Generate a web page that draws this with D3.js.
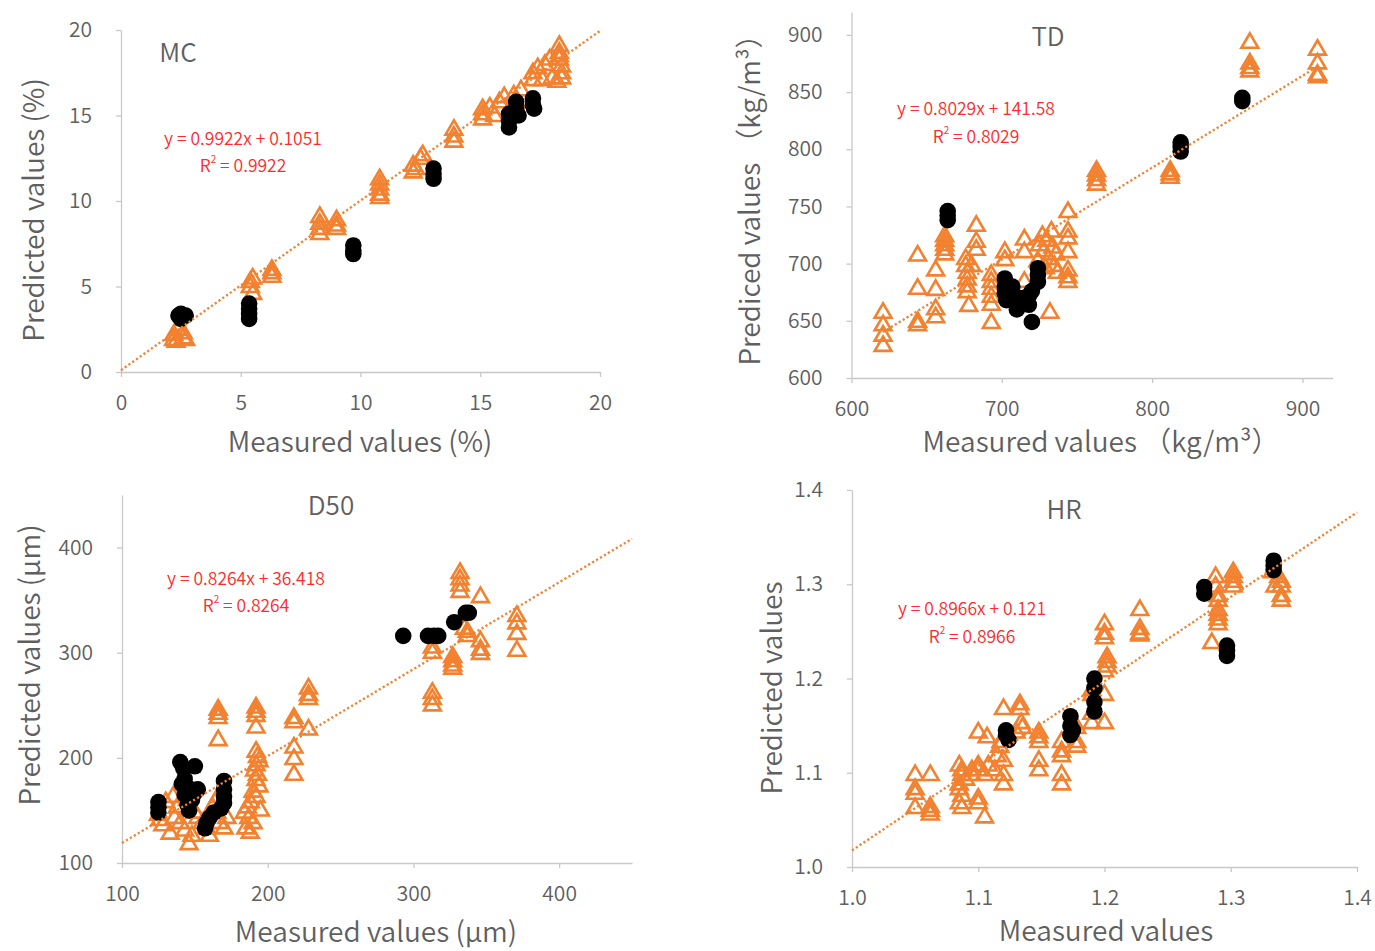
<!DOCTYPE html>
<html>
<head>
<meta charset="utf-8">
<script src="https://cdn.jsdelivr.net/npm/d3@7"></script>
<style>
  body { margin: 0; background: #fff; }
  svg { display: block; }
</style>
</head>
<body>
<svg id="chart" width="1375" height="951"></svg>
<script>
// ---- MC: moisture content (%) ----
const mcCal = [
  [2.2,2.0],[2.2,2.3],[2.3,1.9],[2.4,2.6],[2.6,2.1],[2.6,2.4],[2.7,2.0],
  [5.4,5.4],[5.4,5.1],[5.5,4.7],[5.5,5.6],
  [6.3,5.7],[6.3,5.9],[6.3,6.1],
  [8.3,9.2],[8.3,8.8],[8.3,8.5],[8.3,8.2],
  [9.0,9.0],[9.0,8.7],[9.0,8.5],
  [10.8,11.4],[10.8,11.1],[10.8,10.8],[10.8,10.5],[10.8,10.3],
  [12.2,12.2],[12.2,11.8],[12.3,12.0],[12.5,12.6],[12.6,12.8],
  [13.9,14.3],[13.9,13.9],[13.9,13.6],
  [15.1,15.5],[15.1,15.2],[15.1,14.9],[15.4,15.6],[15.6,15.1],[15.8,15.9],[16.0,16.2],
  [16.2,15.4],[16.4,16.3],[16.7,16.6],[16.5,15.9],
  [17.2,17.6],[17.2,17.2],[17.4,17.9],[17.7,18.1],[17.9,18.4],[17.6,17.2],[18.0,17.3],
  [18.3,19.2],[18.3,18.8],[18.3,18.4],[18.4,18.0],[18.4,17.6],[18.4,17.3],[18.2,17.1],[18.3,18.6]
];
const mcVal = [
  [2.4,3.3],[2.5,3.4],[2.7,3.3],[2.5,3.1],
  [5.35,4.0],[5.35,3.7],[5.35,3.4],[5.35,3.1],
  [9.7,7.4],[9.7,7.1],[9.7,6.9],
  [13.05,11.9],[13.05,11.6],[13.05,11.3],
  [16.2,15.1],[16.2,14.7],[16.2,14.3],[16.5,15.8],[16.5,15.4],[16.6,15.0],
  [17.2,16.0],[17.2,15.6],[17.25,15.4]
];
const mcTicks = [0, 5, 10, 15, 20];

// ---- TD: tapped density (kg/m3) ----
const tdCal = [
  [621,659],[621,648],[621,639],[621,630],
  [644,709],[644,680],[644,651],[644,648],
  [656,696],[656,679],[656,662],[656,655],
  [662,726],[662,722],[662,718],[662,714],[662,710],
  [676,706],[676,700],[677,694],[677,688],[677,682],[677,677],[678,665],
  [683,735],[683,721],[683,714],[680,700],
  [693,692],[693,686],[693,680],[693,673],[693,666],[693,650],
  [702,712],[702,705],
  [715,723],[715,712],[715,686],
  [725,718],[727,726],[728,713],[730,722],[731,706],[733,730],[734,716],[735,700],[736,710],[737,694],[724,704],[729,698],
  [732,659],
  [744,747],[744,730],[744,724],[744,712],[744,696],[744,690],[744,686],
  [763,783],[763,779],[763,775],[763,771],
  [812,783],[812,780],[812,777],
  [865,895],[865,877],[865,873],[865,870],
  [910,889],[910,877],[910,867],[910,865]
];
const tdVal = [
  [664,746],[664,742],[664,738],
  [702,687],[702,680],[702,674],[703,668],[707,680],[708,673],[709,666],[710,660],
  [714,670],[718,664],[718,672],[720,676],[720,649],[724,684],[724,690],[724,696],
  [819,806],[819,802],[819,798],
  [860,845],[860,842]
];
const tdXTicks = [600, 700, 800, 900];
const tdYTicks = [600, 650, 700, 750, 800, 850, 900];

// ---- D50: median particle size (μm) ----
const d50Cal = [
  [125,148],[126,143],[128,138],[130,160],[133,130],[135,165],[136,145],[138,155],[140,140],
  [143,133],[146,120],[148,128],[145,162],[150,150],[152,145],[155,140],[158,135],[160,128],
  [162,155],[164,160],[165,150],[166,165],[167,140],[170,135],[172,145],
  [166,248],[166,244],[166,240],[166,219],
  [192,250],[192,246],[192,242],[192,231],
  [192,208],[193,203],[194,199],[192,195],[191,190],[193,186],[192,181],[194,175],[190,170],
  [192,165],[188,160],[186,155],[184,150],[187,145],[190,140],[185,135],[188,131],[195,152],
  [218,240],[218,236],[218,212],[218,201],[218,186],
  [228,268],[228,262],[228,258],[228,229],
  [313,307],[313,302],[313,264],[313,258],[313,252],
  [332,378],[332,372],[332,366],[332,360],[346,355],
  [337,322],[337,318],[335,325],
  [327,298],[327,294],[327,290],[327,287],
  [346,313],[346,305],[346,301],
  [371,337],[371,330],[371,320],[371,304]
];
const d50Val = [
  [125,158],[125,153],[125,148],
  [140,196],[142,190],[150,192],[143,180],[145,172],[143,165],[148,160],[145,155],
  [150,167],[152,170],[141,175],[146,150],
  [170,178],[170,170],[170,163],[170,157],[168,152],[163,148],[160,143],[158,138],[157,133],
  [293,316],[310,316],[314,316],[317,316],[328,329],[336,338],[338,338]
];
const d50Ticks = [100, 200, 300, 400];

// ---- HR: Hausner ratio ----
const hrCal = [
  [1.05,1.10],[1.05,1.085],[1.05,1.08],[1.05,1.065],
  [1.062,1.10],[1.062,1.066],[1.062,1.062],[1.062,1.058],
  [1.085,1.11],[1.087,1.105],[1.087,1.10],[1.085,1.09],[1.085,1.085],[1.087,1.078],
  [1.085,1.07],[1.087,1.065],[1.09,1.095],[1.095,1.10],[1.095,1.105],
  [1.10,1.145],[1.10,1.11],[1.10,1.105],[1.10,1.075],[1.10,1.07],
  [1.105,1.055],[1.107,1.14],[1.105,1.10],[1.108,1.11],
  [1.115,1.12],[1.117,1.13],[1.12,1.17],[1.12,1.115],[1.12,1.10],[1.12,1.09],[1.113,1.105],[1.118,1.135],
  [1.133,1.175],[1.133,1.17],[1.134,1.155],[1.135,1.15],[1.13,1.145],
  [1.148,1.145],[1.148,1.14],[1.148,1.135],[1.148,1.115],[1.148,1.105],
  [1.166,1.135],[1.166,1.125],[1.166,1.12],[1.166,1.10],[1.166,1.09],
  [1.176,1.155],[1.178,1.15],[1.178,1.135],[1.178,1.13],
  [1.19,1.19],[1.19,1.185],[1.19,1.155],[1.19,1.165],
  [1.20,1.26],[1.20,1.25],[1.20,1.245],[1.202,1.225],[1.202,1.22],[1.202,1.215],[1.20,1.21],[1.20,1.185],[1.20,1.155],
  [1.228,1.275],[1.228,1.255],[1.228,1.25],[1.228,1.248],
  [1.288,1.31],[1.288,1.30],[1.29,1.29],[1.29,1.285],[1.29,1.275],[1.29,1.27],[1.29,1.265],[1.29,1.26],[1.285,1.24],
  [1.302,1.315],[1.302,1.31],[1.302,1.305],[1.302,1.30],
  [1.333,1.315],[1.338,1.31],[1.34,1.305],[1.34,1.30],[1.34,1.29],[1.34,1.285],[1.335,1.30]
];
const hrVal = [
  [1.122,1.145],[1.122,1.14],[1.124,1.135],
  [1.173,1.16],[1.173,1.15],[1.173,1.14],[1.175,1.145],
  [1.192,1.20],[1.192,1.19],[1.192,1.175],[1.192,1.165],
  [1.279,1.297],[1.279,1.29],
  [1.297,1.235],[1.297,1.23],[1.297,1.224],
  [1.334,1.325],[1.334,1.32],[1.334,1.315]
];
const hrTicks = [1.0, 1.1, 1.2, 1.3, 1.4];

// Regression lines printed on each panel
const fits = {
  MC:  { slope: 0.9922, intercept: 0.1051, r2: "0.9922", eq: "y = 0.9922x + 0.1051" },
  TD:  { slope: 0.8029, intercept: 141.58, r2: "0.8029", eq: "y = 0.8029x + 141.58" },
  D50: { slope: 0.8264, intercept: 36.418, r2: "0.8264", eq: "y = 0.8264x + 36.418" },
  HR:  { slope: 0.8966, intercept: 0.121,  r2: "0.8966", eq: "y = 0.8966x + 0.121" }
};

const panels = [
  { name: "MC", cal: mcCal, val: mcVal, xDomain: [0, 20], yDomain: [0, 20],
    xTicks: mcTicks, yTicks: mcTicks, fmt: d3.format("d"), fitRange: [0, 20],
    box: { left: 121, right: 600, top: 30, bottom: 372 },
    title: [178, 50], eqAt: [243, 137], r2At: [243, 164],
    xTitle: "Measured values (%)", xTitleAt: [360, 440],
    yTitle: "Predicted values (%)", yTitleAt: [32, 210] },
  { name: "TD", cal: tdCal, val: tdVal, xDomain: [600, 920], yDomain: [600, 920],
    xTicks: tdXTicks, yTicks: tdYTicks, fmt: d3.format("d"), fitRange: null,
    box: { left: 851.5, right: 1332.5, top: 12, bottom: 378 },
    title: [1048, 34], eqAt: [976, 107], r2At: [976, 135],
    xTitle: "Measured values （kg/m³）", xTitleAt: [1101, 440],
    yTitle: "Prediced values （kg/m³）", yTitleAt: [748, 193] },
  { name: "D50", cal: d50Cal, val: d50Val, xDomain: [100, 450], yDomain: [100, 450],
    xTicks: d50Ticks, yTicks: d50Ticks, fmt: d3.format("d"), fitRange: [100, 450],
    box: { left: 122, right: 632, top: 495, bottom: 863 },
    title: [331, 503], eqAt: [246, 577], r2At: [246, 604],
    xTitle: "Measured values (μm)", xTitleAt: [376, 930],
    yTitle: "Predicted values (μm)", yTitleAt: [28, 665] },
  { name: "HR", cal: hrCal, val: hrVal, xDomain: [1.0, 1.4], yDomain: [1.0, 1.4],
    xTicks: hrTicks, yTicks: hrTicks, fmt: d3.format(".1f"), fitRange: [1.0, 1.4],
    box: { left: 852, right: 1357, top: 490, bottom: 867 },
    title: [1064, 507], eqAt: [972, 607], r2At: [972, 635],
    xTitle: "Measured values", xTitleAt: [1106, 929],
    yTitle: "Predicted values", yTitleAt: [770, 688] }
];

const FONT = "'Noto Sans CJK JP', 'Noto Sans', sans-serif";
const GREY = "#5f5f5f";
const AXIS = "#c8c8c8";
const ORANGE = "#F28130";
const RED = "#FF2a2a";
const WEIGHT = 350;

// open triangle marker, centred on its bounding box
const triPath = (() => {
  const w = 8.4, h = 7.2;
  return `M0,${-h}L${w},${h}L${-w},${h}Z`;
})();

const svg = d3.select("#chart");

panels.forEach(p => {
  const x = d3.scaleLinear().domain(p.xDomain).range([p.box.left, p.box.right]);
  const y = d3.scaleLinear().domain(p.yDomain).range([p.box.bottom, p.box.top]);
  const g = svg.append("g").attr("class", "panel-" + p.name);

  const ax = g.append("g")
    .attr("transform", `translate(0,${p.box.bottom})`)
    .call(d3.axisBottom(x).tickValues(p.xTicks).tickFormat(p.fmt)
      .tickSize(5).tickSizeOuter(0).tickPadding(18));
  const ay = g.append("g")
    .attr("transform", `translate(${p.box.left},0)`)
    .call(d3.axisLeft(y).tickValues(p.yTicks).tickFormat(p.fmt)
      .tickSize(5).tickSizeOuter(0).tickPadding(24));
  [ax, ay].forEach(a => {
    a.select(".domain").attr("stroke", AXIS).attr("stroke-width", 1.3);
    a.selectAll(".tick line").attr("stroke", AXIS).attr("stroke-width", 1.3);
    a.selectAll(".tick text")
      .attr("fill", GREY)
      .style("font-size", "21px")
      .style("font-weight", WEIGHT)
      .style("font-family", FONT);
  });

  // calibration set: open orange triangles
  g.append("g").selectAll("path").data(p.cal).join("path")
    .attr("d", triPath)
    .attr("transform", d => `translate(${x(d[0])},${y(d[1])})`)
    .attr("fill", "none")
    .attr("stroke", ORANGE)
    .attr("stroke-width", 2.6)
    .attr("stroke-linejoin", "miter");

  // validation set: filled black circles
  g.append("g").selectAll("circle").data(p.val).join("circle")
    .attr("cx", d => x(d[0]))
    .attr("cy", d => y(d[1]))
    .attr("r", 8.3)
    .attr("fill", "#000");

  // dotted linear trend line
  const f = fits[p.name];
  const range = p.fitRange || d3.extent(p.cal.concat(p.val), d => d[0]);
  g.append("line")
    .attr("x1", x(range[0])).attr("y1", y(f.slope * range[0] + f.intercept))
    .attr("x2", x(range[1])).attr("y2", y(f.slope * range[1] + f.intercept))
    .attr("stroke", ORANGE)
    .attr("stroke-width", 2.3)
    .attr("stroke-dasharray", "2.2 2.4");

  // panel title
  g.append("text")
    .attr("x", p.title[0]).attr("y", p.title[1])
    .attr("text-anchor", "middle").attr("dominant-baseline", "central")
    .attr("fill", GREY)
    .style("font-family", FONT).style("font-size", "26px").style("font-weight", WEIGHT)
    .text(p.name);

  // regression equation and R²
  g.append("text")
    .attr("x", p.eqAt[0]).attr("y", p.eqAt[1])
    .attr("text-anchor", "middle").attr("dominant-baseline", "central")
    .attr("fill", RED)
    .style("font-family", FONT).style("font-size", "17.5px").style("font-weight", WEIGHT)
    .text(f.eq);
  const r2 = g.append("text")
    .attr("x", p.r2At[0]).attr("y", p.r2At[1])
    .attr("text-anchor", "middle").attr("dominant-baseline", "central")
    .attr("fill", RED)
    .style("font-family", FONT).style("font-size", "17.5px").style("font-weight", WEIGHT);
  r2.append("tspan").text("R");
  r2.append("tspan").attr("dy", -6).style("font-size", "10px").text("2");
  r2.append("tspan").attr("dy", 6).text(" = " + f.r2);

  // axis titles
  g.append("text")
    .attr("x", p.xTitleAt[0]).attr("y", p.xTitleAt[1])
    .attr("text-anchor", "middle").attr("dominant-baseline", "central")
    .attr("fill", GREY)
    .style("font-family", FONT).style("font-size", "28px").style("font-weight", WEIGHT)
    .text(p.xTitle);
  g.append("text")
    .attr("transform", `translate(${p.yTitleAt[0]},${p.yTitleAt[1]}) rotate(-90)`)
    .attr("text-anchor", "middle").attr("dominant-baseline", "central")
    .attr("fill", GREY)
    .style("font-family", FONT).style("font-size", "28px").style("font-weight", WEIGHT)
    .text(p.yTitle);
});
</script>
</body>
</html>
